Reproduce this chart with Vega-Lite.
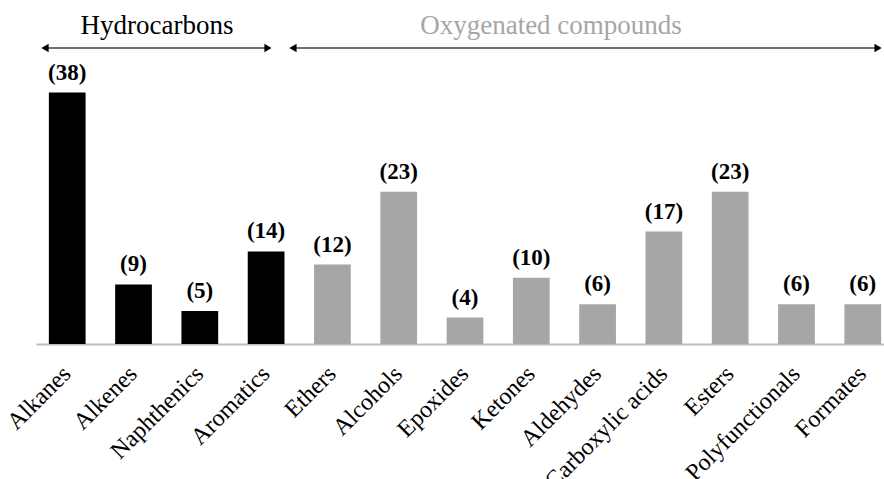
{
  "$schema": "https://vega.github.io/schema/vega-lite/v6.json",
  "width": 848,
  "height": 344,
  "autosize": {"type": "none"},
  "padding": {"left": 36, "top": 0, "right": 0, "bottom": 135},
  "background": "white",
  "config": {"view": {"stroke": null}},
  "datasets": {
    "bars": [
      {"category": "Alkanes", "value": 38, "label": "(38)", "group": "Hydrocarbons"},
      {"category": "Alkenes", "value": 9, "label": "(9)", "group": "Hydrocarbons"},
      {"category": "Naphthenics", "value": 5, "label": "(5)", "group": "Hydrocarbons"},
      {"category": "Aromatics", "value": 14, "label": "(14)", "group": "Hydrocarbons"},
      {"category": "Ethers", "value": 12, "label": "(12)", "group": "Oxygenated compounds"},
      {"category": "Alcohols", "value": 23, "label": "(23)", "group": "Oxygenated compounds"},
      {"category": "Epoxides", "value": 4, "label": "(4)", "group": "Oxygenated compounds"},
      {"category": "Ketones", "value": 10, "label": "(10)", "group": "Oxygenated compounds"},
      {"category": "Aldehydes", "value": 6, "label": "(6)", "group": "Oxygenated compounds"},
      {"category": "Carboxylic acids", "value": 17, "label": "(17)", "group": "Oxygenated compounds"},
      {"category": "Esters", "value": 23, "label": "(23)", "group": "Oxygenated compounds"},
      {"category": "Polyfunctionals", "value": 6, "label": "(6)", "group": "Oxygenated compounds"},
      {"category": "Formates", "value": 6, "label": "(6)", "group": "Oxygenated compounds"}
    ],
    "groups": [
      {"group": "Hydrocarbons", "start": -0.335, "end": 3.028, "mid": 1.354, "arrowY": 44.75, "textY": 46.86},
      {"group": "Oxygenated compounds", "start": 3.405, "end": 12.23, "mid": 7.297, "arrowY": 44.75, "textY": 46.86}
    ]
  },
  "layer": [
    {
      "data": {"name": "bars"},
      "encoding": {
        "x": {
          "field": "category",
          "type": "nominal",
          "sort": null,
          "scale": {"range": [0, 858], "paddingInner": 0.446, "paddingOuter": 0.194},
          "axis": {
            "title": null,
            "ticks": false,
            "grid": false,
            "domainColor": "#bfbfbf",
            "domainWidth": 2,
            "labelFont": "Liberation Serif",
            "labelFontSize": 24,
            "labelColor": "black",
            "labelAngle": -45,
            "labelAlign": "right",
            "labelBaseline": "middle",
            "labelPadding": 26,
            "labelOffset": 0,
            "labelOverlap": false,
            "labelBound": false
          }
        },
        "y": {
          "field": "value",
          "type": "quantitative",
          "scale": {"domain": [0, 52], "nice": false, "zero": true},
          "axis": null
        }
      },
      "layer": [
        {
          "mark": {"type": "bar"},
          "encoding": {
            "color": {
              "field": "group",
              "type": "nominal",
              "scale": {"domain": ["Hydrocarbons", "Oxygenated compounds"], "range": ["#000000", "#a6a6a6"]},
              "legend": null
            }
          }
        },
        {
          "mark": {"type": "text", "font": "Liberation Serif", "fontWeight": "bold", "fontSize": 23, "baseline": "alphabetic", "align": "center", "dy": -13, "color": "black"},
          "encoding": {"text": {"field": "label"}}
        }
      ]
    },
    {
      "data": {"name": "groups"},
      "encoding": {
        "y": {"field": "arrowY", "type": "quantitative", "scale": {"domain": [0, 52], "nice": false}, "axis": null}
      },
      "layer": [
        {
          "mark": {"type": "rule", "color": "#404040", "strokeWidth": 1.5},
          "encoding": {
            "x": {"field": "start", "type": "quantitative", "scale": {"domain": [-0.4706, 12.47], "range": [0, 858], "nice": false, "zero": false}, "axis": null},
            "x2": {"field": "end"}
          }
        },
        {
          "mark": {"type": "point", "shape": "triangle-left", "filled": true, "color": "black", "size": 70, "opacity": 1},
          "encoding": {
            "x": {"field": "start", "type": "quantitative", "scale": {"domain": [-0.4706, 12.47], "range": [0, 858], "nice": false, "zero": false}, "axis": null}
          }
        },
        {
          "mark": {"type": "point", "shape": "triangle-right", "filled": true, "color": "black", "size": 70, "opacity": 1},
          "encoding": {
            "x": {"field": "end", "type": "quantitative", "scale": {"domain": [-0.4706, 12.47], "range": [0, 858], "nice": false, "zero": false}, "axis": null}
          }
        },
        {
          "mark": {"type": "text", "font": "Liberation Serif", "fontSize": 27, "baseline": "alphabetic", "align": "center"},
          "encoding": {
            "x": {"field": "mid", "type": "quantitative", "scale": {"domain": [-0.4706, 12.47], "range": [0, 858], "nice": false, "zero": false}, "axis": null},
            "y": {"field": "textY", "type": "quantitative"},
            "text": {"field": "group"},
            "color": {
              "field": "group",
              "type": "nominal",
              "scale": {"domain": ["Hydrocarbons", "Oxygenated compounds"], "range": ["#000000", "#a6a6a6"]},
              "legend": null
            }
          }
        }
      ]
    }
  ],
  "resolve": {"scale": {"x": "independent"}}
}
